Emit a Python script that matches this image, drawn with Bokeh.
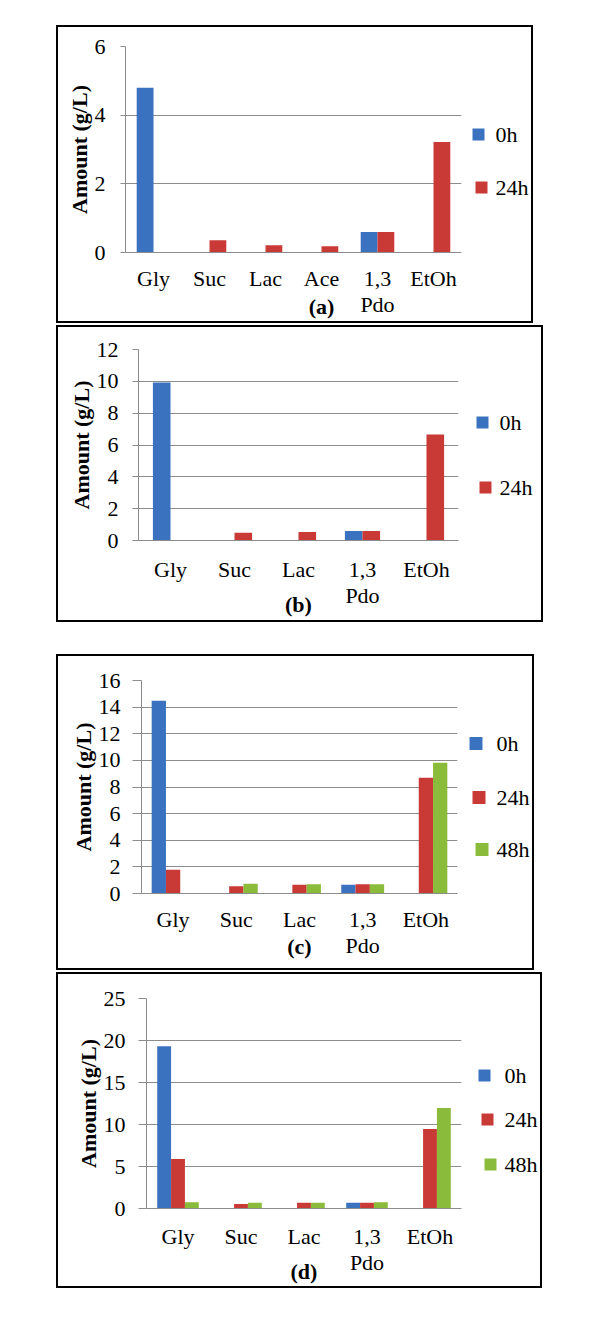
from bokeh.plotting import figure
from bokeh.layouts import column, row
from bokeh.models import (FactorRange, Range1d, FixedTicker, LinearAxis,
                          CategoricalAxis, Spacer, ColumnDataSource)
from bokeh.transform import dodge
from bokeh.embed import file_html
from bokeh.resources import INLINE

# ---------------- data ----------------
series_names = ["0h", "24h", "48h"]
series_colors = ["#3B72C0", "#C93A37", "#8BBB3B"]

cats_a = ["Gly", "Suc", "Lac", "Ace", "1,3\nPdo", "EtOh"]
a_0h = [4.8, 0, 0, 0, 0.6, 0]
a_24h = [0, 0.36, 0.21, 0.18, 0.6, 3.22]

cats_bcd = ["Gly", "Suc", "Lac", "1,3\nPdo", "EtOh"]
b_0h = [9.93, 0, 0, 0.59, 0]
b_24h = [0, 0.48, 0.54, 0.59, 6.66]

c_0h = [14.47, 0, 0, 0.65, 0]
c_24h = [1.78, 0.55, 0.65, 0.70, 8.70]
c_48h = [0, 0.73, 0.70, 0.70, 9.83]

d_0h = [19.33, 0, 0, 0.67, 0]
d_24h = [5.90, 0.55, 0.67, 0.67, 9.47]
d_48h = [0.75, 0.67, 0.67, 0.75, 11.96]

ticks_a = [0, 2, 4, 6]
ticks_b = [0, 2, 4, 6, 8, 10, 12]
ticks_c = [0, 2, 4, 6, 8, 10, 12, 14, 16]
ticks_d = [0, 5, 10, 15, 20, 25]

captions = ["(a)", "(b)", "(c)", "(d)"]
y_title = "Amount (g/L)"

FONT = "Liberation Serif"
GRID = "#8C8C8C"
BORDER_CSS = ":host { outline: 2px solid #000; outline-offset: 0px; }"


def make_panel(cats, series, ymax, ticks, caption, cap_slot, W, H, L, T, R, B,
               bar_w, tick_out, ylab_standoff, xlab_standoff, axlab_standoff,
               cap_standoff, key_pos, key_gap, key_size):
    p = figure(width=W, height=H, x_range=FactorRange(*cats, range_padding=0),
               y_range=Range1d(0, ymax), output_backend="svg",
               toolbar_location=None, min_border_left=L, min_border_right=R,
               min_border_top=T, min_border_bottom=B)
    p.outline_line_color = None
    p.background_fill_color = "white"
    p.border_fill_color = "white"
    p.stylesheets = [BORDER_CSS]

    n = len(series)
    data = {"cat": cats}
    for i in range(n):
        data["s%d" % i] = series[i]
    src = ColumnDataSource(data)
    for i in range(n):
        off = (i - (n - 1) / 2.0) * bar_w
        p.vbar(x=dodge("cat", off, range=p.x_range), top="s%d" % i,
               width=bar_w, source=src, fill_color=series_colors[i],
               line_color=None)

    # category axis
    xa = p.xaxis[0]
    xa.axis_line_color = GRID
    xa.major_tick_line_color = None
    xa.minor_tick_line_color = None
    xa.major_tick_out = 0
    xa.minor_tick_out = 0
    xa.major_label_text_font = FONT
    xa.major_label_text_font_size = "22px"
    xa.major_label_text_color = "black"
    xa.major_label_text_line_height = 1.05
    xa.major_label_standoff = xlab_standoff

    # caption, on a row of its own beneath the category names
    slots = [" " * (k + 1) for k in range(len(cats))]
    slots[cap_slot] = caption
    p.extra_x_ranges = {"caption": FactorRange(*slots, range_padding=0)}
    cap = CategoricalAxis(x_range_name="caption",
                          axis_line_color=None, major_tick_line_color=None,
                          minor_tick_line_color=None, major_tick_out=0,
                          minor_tick_out=0, major_tick_in=0, minor_tick_in=0,
                          major_label_text_font=FONT,
                          major_label_text_font_size="22px",
                          major_label_text_font_style="bold",
                          major_label_text_color="black",
                          major_label_text_line_height=1.0,
                          major_label_standoff=cap_standoff)
    p.add_layout(cap, "below")

    # legend keys on the right: one coloured square per series
    for i in range(n):
        pos = key_pos[i]
        sw = LinearAxis(ticker=FixedTicker(ticks=[pos]),
                        major_label_overrides={pos: " "},
                        axis_line_color=None,
                        major_tick_line_color=series_colors[i],
                        major_tick_line_width=key_size,
                        major_tick_in=-key_gap,
                        major_tick_out=key_gap + key_size,
                        minor_tick_line_color=None, minor_tick_in=0,
                        minor_tick_out=0,
                        major_label_text_font_size="1px",
                        major_label_standoff=-(key_gap + key_size))
        p.add_layout(sw, "right")
    lab = LinearAxis(ticker=FixedTicker(ticks=key_pos[:n]),
                     major_label_overrides={key_pos[i]: series_names[i]
                                            for i in range(n)},
                     axis_line_color=None, major_tick_line_color=None,
                     major_tick_in=0, major_tick_out=0,
                     minor_tick_line_color=None, minor_tick_in=0,
                     minor_tick_out=0,
                     major_label_text_font=FONT,
                     major_label_text_font_size="22px",
                     major_label_text_color="black",
                     major_label_standoff=key_gap + key_size + 5)
    p.add_layout(lab, "right")

    # value axis
    ya = p.yaxis[0]
    ya.ticker = FixedTicker(ticks=ticks)
    ya.axis_line_color = GRID
    ya.major_tick_line_color = GRID
    ya.major_tick_out = tick_out
    ya.major_tick_in = 0
    ya.minor_tick_line_color = None
    ya.major_label_text_font = FONT
    ya.major_label_text_font_size = "22px"
    ya.major_label_text_color = "black"
    ya.major_label_standoff = ylab_standoff
    ya.axis_label = y_title
    ya.axis_label_text_font = FONT
    ya.axis_label_text_font_size = "22px"
    ya.axis_label_text_font_style = "bold"
    ya.axis_label_text_color = "black"
    ya.axis_label_standoff = axlab_standoff

    p.xgrid.grid_line_color = None
    p.ygrid.grid_line_color = GRID
    p.ygrid.grid_line_width = 1
    return p


pa = make_panel(cats_a, [a_0h, a_24h], 6, ticks_a, captions[0], 3,
                473, 294, 67, 19, 69, 67, 0.30, 5, 15, 13, 0, -26,
                [3.43, 1.90], 11, 12)
pb = make_panel(cats_bcd, [b_0h, b_24h], 12, ticks_b, captions[1], 2,
                483, 293, 80, 22, 83, 80, 0.275, 6, 14, 16, 0, -19,
                [7.43, 3.35], 18, 12)
pc = make_panel(cats_bcd, [c_0h, c_24h, c_48h], 16, ticks_c, captions[2], 2,
                474, 312, 83, 24, 75, 75, 0.226, 9, 12, 13, 0, -27,
                [11.27, 7.23, 3.28], 12, 13)
pd = make_panel(cats_bcd, [d_0h, d_24h, d_48h], 25, ticks_d, captions[3], 2,
                482, 312, 88, 24, 78, 77, 0.22, 8, 13, 15, 0, -19,
                [15.88, 10.55, 5.21], 17, 12)

layout = column(
    Spacer(height=27),
    row(Spacer(width=58), pa),
    Spacer(height=6),
    row(Spacer(width=58), pb),
    Spacer(height=36),
    row(Spacer(width=58), pc),
    Spacer(height=6),
    row(Spacer(width=58), pd),
)

open("out.html", "w").write(file_html(layout, INLINE))
